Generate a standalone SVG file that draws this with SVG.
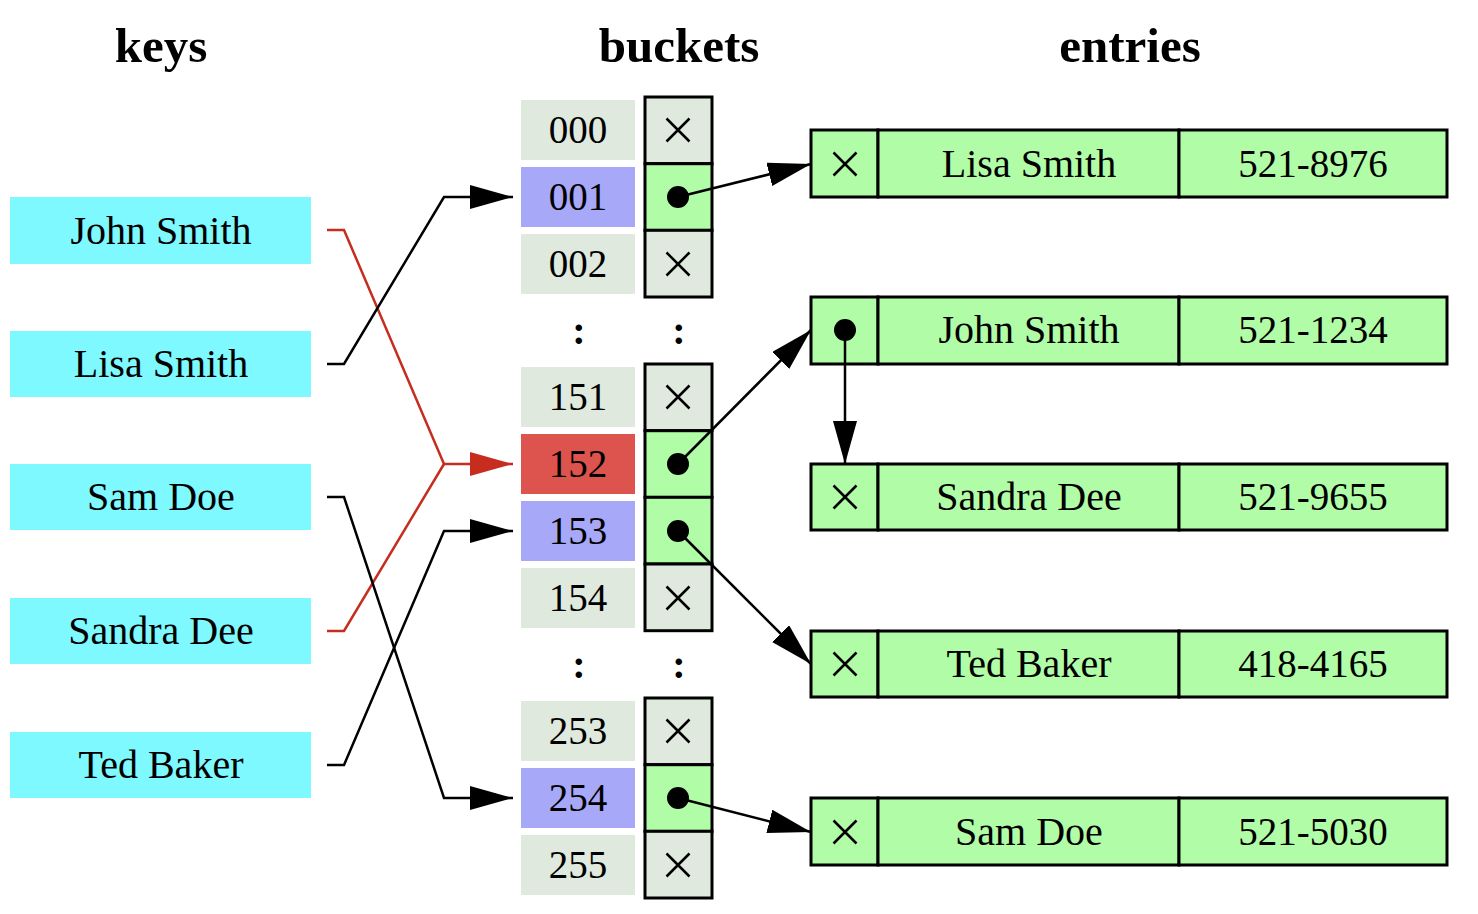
<svg xmlns="http://www.w3.org/2000/svg" width="1478" height="914" viewBox="0 0 1478 914">
<style>
text{font-family:"Liberation Serif","Times New Roman",serif;fill:#000;text-anchor:middle}
.t{font-size:39px}
.n{font-size:40px}
.d{font-size:40px;font-weight:bold}
.h{font-size:49px;font-weight:bold}
.key{fill:#7df9ff}
.lab{fill:#dfe9dd}
.blue{fill:#a7a8f8}
.red{fill:#dd534e}
.pg{fill:#dfe9dd;stroke:#000;stroke-width:3}
.pgr{fill:#b1fca6;stroke:#000;stroke-width:3}
.ent{fill:#b1fca6;stroke:#000;stroke-width:3}
.x{stroke:#000;stroke-width:2.5;fill:none}
.c{fill:none;stroke:#000;stroke-width:2.5}
.cr{fill:none;stroke:#c62d1f;stroke-width:2.5}
</style>
<defs>
<marker id="ab" markerUnits="userSpaceOnUse" markerWidth="44" markerHeight="26" refX="43" refY="12" orient="auto"><path d="M0,0 L43,12 L0,24 z" fill="#000"/></marker>
<marker id="ar" markerUnits="userSpaceOnUse" markerWidth="44" markerHeight="26" refX="43" refY="12" orient="auto"><path d="M0,0 L43,12 L0,24 z" fill="#c62d1f"/></marker>
<g id="xm"><path class="x" d="M-11.5,-11.5 L11.5,11.5 M-11.5,11.5 L11.5,-11.5"/></g>
</defs>
<rect width="1478" height="914" fill="#fff"/>

<g id="headers">
<text class="h" x="161" y="62">keys</text>
<text class="h" x="679" y="62">buckets</text>
<text class="h" x="1130" y="62">entries</text>
</g>

<g id="keys">
<g id="key-john"><rect class="key" x="10" y="197" width="301" height="67"/><text class="n" x="161" y="244">John Smith</text></g>
<g id="key-lisa"><rect class="key" x="10" y="331" width="301" height="66"/><text class="n" x="161" y="377">Lisa Smith</text></g>
<g id="key-sam"><rect class="key" x="10" y="464" width="301" height="66"/><text class="n" x="161" y="510">Sam Doe</text></g>
<g id="key-sandra"><rect class="key" x="10" y="598" width="301" height="66"/><text class="n" x="161" y="644">Sandra Dee</text></g>
<g id="key-ted"><rect class="key" x="10" y="732" width="301" height="66"/><text class="n" x="161" y="778">Ted Baker</text></g>
</g>

<g id="buckets">
<g id="b000"><rect class="lab" x="521" y="100" width="114" height="60"/><text class="t" x="578" y="143">000</text><rect class="pg" x="645" y="97" width="67" height="66.7"/><use href="#xm" x="678" y="130"/></g>
<g id="b001"><rect class="blue" x="521" y="167" width="114" height="60"/><text class="t" x="578" y="210">001</text><rect class="pgr" x="645" y="163.7" width="67" height="66.7"/><circle cx="678" cy="197" r="11"/></g>
<g id="b002"><rect class="lab" x="521" y="234" width="114" height="60"/><text class="t" x="578" y="277">002</text><rect class="pg" x="645" y="230.3" width="67" height="66.7"/><use href="#xm" x="678" y="264"/></g>
<g id="dots1"><text class="d" x="579" y="344">:</text><text class="d" x="679" y="344">:</text></g>
<g id="b151"><rect class="lab" x="521" y="367" width="114" height="60"/><text class="t" x="578" y="410">151</text><rect class="pg" x="645" y="364" width="67" height="66.7"/><use href="#xm" x="678" y="397"/></g>
<g id="b152"><rect class="red" x="521" y="434" width="114" height="60"/><text class="t" x="578" y="477">152</text><rect class="pgr" x="645" y="430.7" width="67" height="66.7"/><circle cx="678" cy="464" r="11"/></g>
<g id="b153"><rect class="blue" x="521" y="501" width="114" height="60"/><text class="t" x="578" y="544">153</text><rect class="pgr" x="645" y="497.3" width="67" height="66.7"/><circle cx="678" cy="531" r="11"/></g>
<g id="b154"><rect class="lab" x="521" y="568" width="114" height="60"/><text class="t" x="578" y="611">154</text><rect class="pg" x="645" y="564" width="67" height="66.7"/><use href="#xm" x="678" y="598"/></g>
<g id="dots2"><text class="d" x="579" y="678">:</text><text class="d" x="679" y="678">:</text></g>
<g id="b253"><rect class="lab" x="521" y="701" width="114" height="60"/><text class="t" x="578" y="744">253</text><rect class="pg" x="645" y="698" width="67" height="66.7"/><use href="#xm" x="678" y="731"/></g>
<g id="b254"><rect class="blue" x="521" y="768" width="114" height="60"/><text class="t" x="578" y="811">254</text><rect class="pgr" x="645" y="764.7" width="67" height="66.7"/><circle cx="678" cy="798" r="11"/></g>
<g id="b255"><rect class="lab" x="521" y="835" width="114" height="60"/><text class="t" x="578" y="878">255</text><rect class="pg" x="645" y="831.3" width="67" height="66.7"/><use href="#xm" x="678" y="865"/></g>
</g>

<g id="entries">
<g id="e-lisa"><rect class="ent" x="811" y="130" width="67" height="67"/><rect class="ent" x="878" y="130" width="301" height="67"/><rect class="ent" x="1179" y="130" width="268" height="67"/><use href="#xm" x="845" y="164"/><text class="n" x="1029" y="177">Lisa Smith</text><text class="t" x="1313" y="177">521-8976</text></g>
<g id="e-john"><rect class="ent" x="811" y="297" width="67" height="67"/><rect class="ent" x="878" y="297" width="301" height="67"/><rect class="ent" x="1179" y="297" width="268" height="67"/><circle cx="845" cy="330" r="11"/><text class="n" x="1029" y="343">John Smith</text><text class="t" x="1313" y="343">521-1234</text></g>
<g id="e-sandra"><rect class="ent" x="811" y="464" width="67" height="66"/><rect class="ent" x="878" y="464" width="301" height="66"/><rect class="ent" x="1179" y="464" width="268" height="66"/><use href="#xm" x="845" y="497"/><text class="n" x="1029" y="510">Sandra Dee</text><text class="t" x="1313" y="510">521-9655</text></g>
<g id="e-ted"><rect class="ent" x="811" y="631" width="67" height="66"/><rect class="ent" x="878" y="631" width="301" height="66"/><rect class="ent" x="1179" y="631" width="268" height="66"/><use href="#xm" x="845" y="664"/><text class="n" x="1029" y="677">Ted Baker</text><text class="t" x="1313" y="677">418-4165</text></g>
<g id="e-sam"><rect class="ent" x="811" y="798" width="67" height="67"/><rect class="ent" x="878" y="798" width="301" height="67"/><rect class="ent" x="1179" y="798" width="268" height="67"/><use href="#xm" x="845" y="832"/><text class="n" x="1029" y="845">Sam Doe</text><text class="t" x="1313" y="845">521-5030</text></g>
</g>

<g id="connectors">
<path class="cr" d="M327,230 L344,230 L444,464 L513,464" marker-end="url(#ar)"/>
<path class="cr" d="M327,631 L344,631 L444,464"/>
<path class="c" d="M327,364 L344,364 L444,197 L513,197" marker-end="url(#ab)"/>
<path class="c" d="M327,497 L344,497 L444,798 L513,798" marker-end="url(#ab)"/>
<path class="c" d="M327,765 L344,765 L444,531 L513,531" marker-end="url(#ab)"/>
<path class="c" d="M678,197 L811,164" marker-end="url(#ab)"/>
<path class="c" d="M678,464 L811,330" marker-end="url(#ab)"/>
<path class="c" d="M678,531 L811,664" marker-end="url(#ab)"/>
<path class="c" d="M678,798 L811,832" marker-end="url(#ab)"/>
<path class="c" d="M845,330 L845,464" marker-end="url(#ab)"/>
</g>
</svg>
